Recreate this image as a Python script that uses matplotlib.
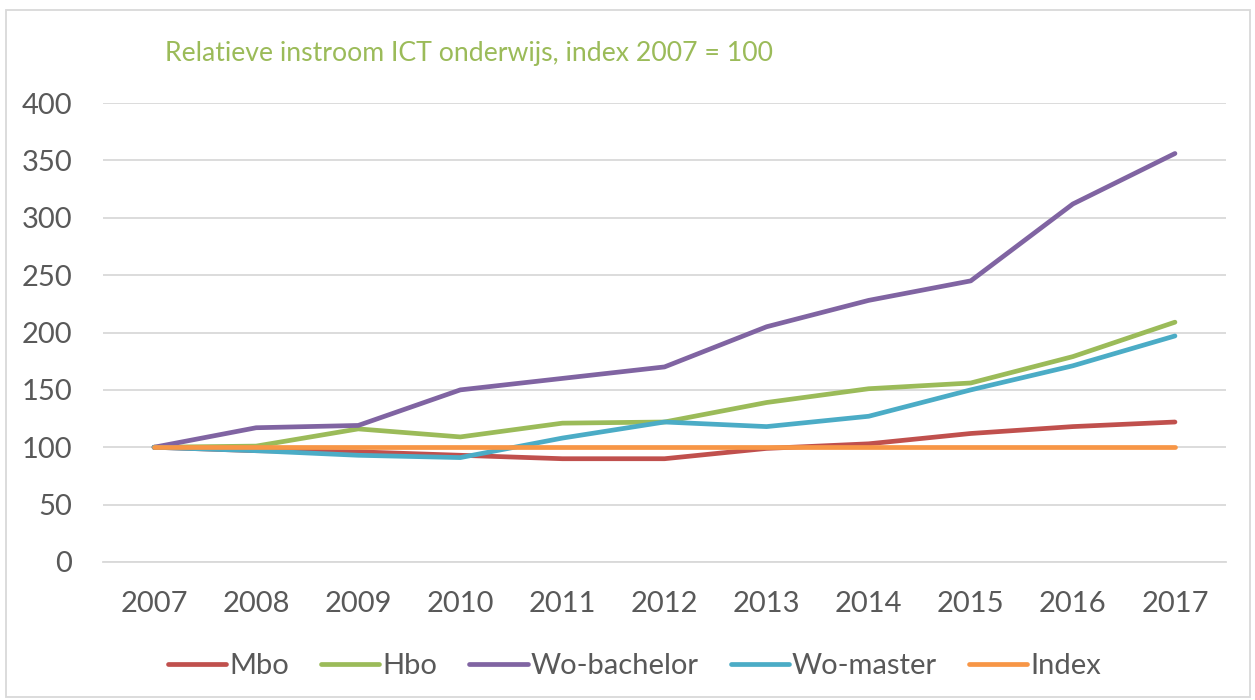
import matplotlib

matplotlib.use("Agg")
import matplotlib.pyplot as plt  # noqa: E402
from matplotlib.patches import Rectangle  # noqa: E402

# data (index 2007 = 100)
years = ["2007", "2008", "2009", "2010", "2011", "2012",
         "2013", "2014", "2015", "2016", "2017"]
mbo = [100, 97, 96, 93, 90, 90, 99, 103, 112, 118, 122]
hbo = [100, 101, 116, 109, 121, 122, 139, 151, 156, 179, 209]
wo_bachelor = [100, 117, 119, 150, 160, 170, 205, 228, 245, 312, 356]
wo_master = [100, 97, 93, 91, 108, 122, 118, 127, 150, 171, 197]
index_line = [100] * len(years)

series = [
    ("Mbo", mbo, "#C0504D"),
    ("Hbo", hbo, "#9BBB59"),
    ("Wo-bachelor", wo_bachelor, "#8064A2"),
    ("Wo-master", wo_master, "#4BACC6"),
    ("Index", index_line, "#F79646"),
]

plt.rcParams["font.family"] = ["Lato", "DejaVu Sans"]
text_col = "#595959"
grid_col = "#D9D9D9"

fig = plt.figure(figsize=(12.55, 7.0), dpi=100)
ax = fig.add_axes([103 / 1255, 1 - 562 / 700, (1226 - 103) / 1255, (562 - 103) / 700])

x = list(range(len(years)))
for label, vals, col in series:
    ax.plot(x, vals, color=col, lw=3.4, label=label,
            solid_capstyle="round", solid_joinstyle="round")

ax.set_xlim(-0.5, len(years) - 0.5)
ax.set_ylim(0, 400)
ax.set_yticks(range(0, 401, 50))
ax.set_xticks(x)
ax.set_xticklabels(years)
ax.yaxis.grid(True, color=grid_col, lw=1.3)
ax.set_axisbelow(True)
for s in ["top", "right", "left"]:
    ax.spines[s].set_visible(False)
ax.spines["bottom"].set_color(grid_col)
ax.spines["bottom"].set_linewidth(1.3)
ax.tick_params(length=0, labelsize=21, colors=text_col)
ax.tick_params(axis="x", pad=21)
ax.tick_params(axis="y", pad=22)

fig.text(165 / 1255, 1 - 53 / 700, "Relatieve instroom ICT onderwijs, index 2007 = 100",
         color="#9BBB59", fontsize=19.2, va="center", ha="left")

fig.legend(loc="center", bbox_to_anchor=(0.5056, 1 - 666 / 700), ncol=5,
           frameon=False, fontsize=21, labelcolor=text_col,
           handlelength=2.0, handletextpad=0.1, columnspacing=1.1)

fig.patches.append(Rectangle((6 / 1255, 3 / 700), 1244 / 1255, 687 / 700,
                             transform=fig.transFigure, fill=False,
                             edgecolor=grid_col, lw=1.3))

fig.savefig("out.png", dpi=100)
